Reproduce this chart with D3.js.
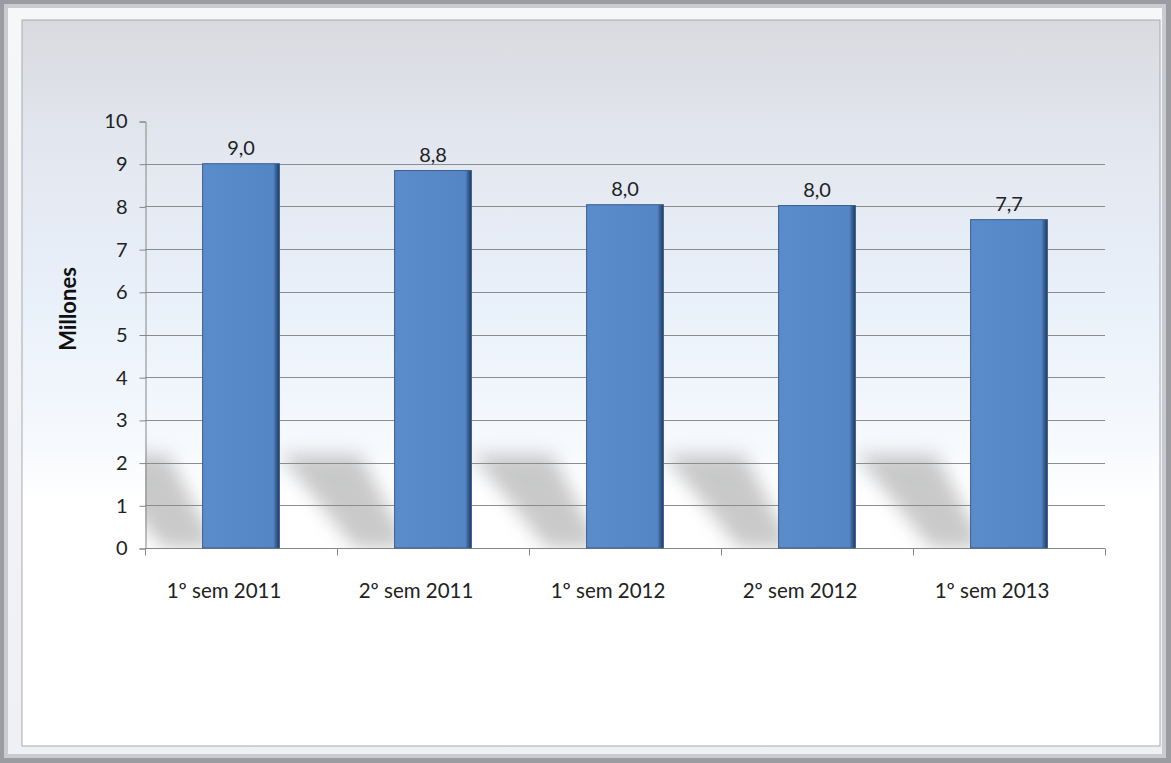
<!DOCTYPE html>
<html><head><meta charset="utf-8">
<script src="https://cdn.jsdelivr.net/npm/d3@7"></script>
<style>html,body{margin:0;padding:0;background:#fff;overflow:hidden}</style>
</head><body>
<svg id="c" width="1171" height="763"></svg>
<script>
const categories = ["1º sem 2011","2º sem 2011","1º sem 2012","2º sem 2012","1º sem 2013"];
const values = [9.0, 8.84, 8.04, 8.02, 7.69];
const yTicks = [0,1,2,3,4,5,6,7,8,9,10];
const yLabel = "Millones";

const svg = d3.select("#c");
const W = 1171, H = 763;
const defs = svg.append("defs");

const bg = defs.append("linearGradient").attr("id","bg").attr("x1",0).attr("y1",0).attr("x2",0).attr("y2",1);
[["0%","#d9dadf"],["18%","#e3e7f0"],["40%","#e9f1fa"],["58%","#f6f9fd"],["66%","#ffffff"],["100%","#ffffff"]]
  .forEach(([o,c])=>bg.append("stop").attr("offset",o).attr("stop-color",c));

const barG = defs.append("linearGradient").attr("id","barg").attr("x1",0).attr("y1",0).attr("x2",1).attr("y2",0);
[["0%","#5a8bca"],["92%","#5486c5"],["95%","#3d679c"],["100%","#1e3a5f"]]
  .forEach(([o,c])=>barG.append("stop").attr("offset",o).attr("stop-color",c));

defs.append("filter").attr("id","blur").attr("x","-50%").attr("y","-50%").attr("width","200%").attr("height","200%")
  .append("feGaussianBlur").attr("stdDeviation",9);

// Frame
const frameG = defs.append("linearGradient").attr("id","frameg").attr("x1",0).attr("y1",0).attr("x2",0).attr("y2",1);
frameG.append("stop").attr("offset","0%").attr("stop-color","#f6f7f9");
frameG.append("stop").attr("offset","100%").attr("stop-color","#eef0f4");
svg.append("rect").attr("x",0).attr("y",0).attr("width",W).attr("height",H).attr("fill","#9a9ca2");
svg.append("rect").attr("x",4).attr("y",4).attr("width",W-9).attr("height",H-9).attr("fill","#c9cbd1");
svg.append("rect").attr("x",8).attr("y",8).attr("width",W-17).attr("height",H-17).attr("fill","url(#frameg)");
svg.append("rect").attr("x",22).attr("y",20).attr("width",1138).attr("height",726)
  .attr("fill","url(#bg)").attr("stroke","#a7a9ae").attr("stroke-width",1);

const plot = {left:145, right:1105, top:121, bottom:548};
const x = d3.scaleBand().domain(categories).range([plot.left, plot.right]).paddingInner(0.6).paddingOuter(0.3);
const y = d3.scaleLinear().domain([0,10]).range([plot.bottom, plot.top]);

defs.append("clipPath").attr("id","pclip").append("rect")
  .attr("x",plot.left).attr("y",plot.top).attr("width",plot.right-plot.left).attr("height",plot.bottom-plot.top);

// shadows
svg.append("g").attr("clip-path","url(#pclip)").selectAll("path").data(categories).join("path")
  .attr("filter","url(#blur)")
  .attr("fill","#bcbcbc").attr("opacity",0.8)
  .attr("d", d => {
    const l = x(d);
    const t = y(2.2), b = y(0);
    return `M${l-115},${t} L${l-35},${t} L${l+15},${b} L${l-40},${b} Z`;
  });

// gridlines
svg.append("g").selectAll("line").data(yTicks.filter(t=>t>0 && t<10)).join("line")
  .attr("x1",plot.left).attr("x2",plot.right)
  .attr("y1",d=>Math.round(y(d))+0.5).attr("y2",d=>Math.round(y(d))+0.5)
  .attr("stroke","#8c8c8c").attr("stroke-width",1);

const FONT = "Lato, 'Open Sans', sans-serif";

// y axis
const yAxis = d3.axisLeft(y).tickValues(yTicks).tickSize(6).tickPadding(12).tickFormat(d3.format("d"));
const ya = svg.append("g").attr("transform",`translate(${plot.left+0.5},0.5)`).call(yAxis);
ya.select(".domain").attr("stroke","#868686");
ya.selectAll(".tick line").attr("stroke","#868686");
ya.selectAll("text").attr("font-family",FONT).attr("font-size",20).attr("fill","#222");

// x axis
const xa = svg.append("g").attr("transform",`translate(0,${Math.round(plot.bottom)+0.5})`);
xa.append("line").attr("x1",plot.left).attr("x2",plot.right).attr("stroke","#868686");
const step = x.step();
const bounds = d3.range(categories.length+1).map(i => plot.left + i*step);
xa.selectAll("line.t").data(bounds).join("line").attr("class","t")
  .attr("x1",d=>Math.round(d)+0.5).attr("x2",d=>Math.round(d)+0.5).attr("y1",0).attr("y2",7).attr("stroke","#868686");
xa.selectAll("text").data(categories).join("text")
  .attr("x",d=>x(d)+x.bandwidth()/2).attr("dx",-17).attr("y",49)
  .attr("text-anchor","middle")
  .attr("font-family",FONT).attr("font-size",20.5).attr("fill","#222")
  .text(d=>d);

// bars
svg.append("g").selectAll("rect").data(categories).join("rect")
  .attr("x",d=>x(d)).attr("width",x.bandwidth())
  .attr("y",(d,i)=>y(values[i])).attr("height",(d,i)=>y(0)-y(values[i]))
  .attr("fill","url(#barg)").attr("stroke","#3a5f8f").attr("stroke-width",1);

// labels
const fmt = v => d3.format(".1f")(v).replace(".",",");
svg.append("g").selectAll("text").data(categories).join("text")
  .attr("x",d=>x(d)+x.bandwidth()/2).attr("y",(d,i)=>y(values[i])-9)
  .attr("text-anchor","middle")
  .attr("font-family",FONT).attr("font-size",20).attr("fill","#222")
  .text((d,i)=>fmt(values[i]));

// y label
svg.append("text").attr("transform",`translate(76,309) rotate(-90)`)
  .attr("text-anchor","middle")
  .attr("font-family",FONT).attr("font-weight","bold").attr("font-size",22).attr("fill","#111")
  .text(yLabel);
</script>
</body></html>
